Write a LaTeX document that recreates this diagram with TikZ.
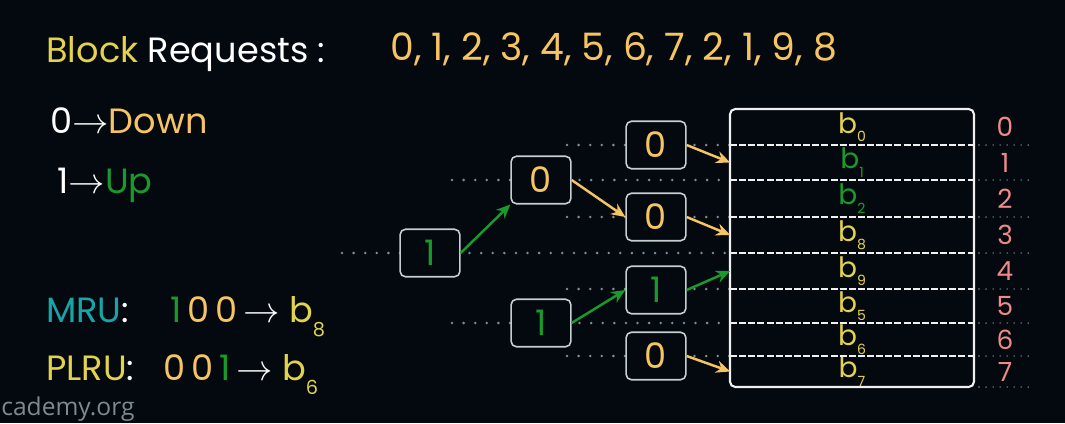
\documentclass[tikz,border=0pt]{standalone}
\usepackage{fontspec}
\setmainfont{Poppins}
\newfontfamily\sitefont{Open Sans}
\usetikzlibrary{arrows.meta}

\definecolor{bgcol}{HTML}{03090E}
\definecolor{ylw}{HTML}{E3D24C}
\definecolor{org}{HTML}{F6C461}
\definecolor{grn}{HTML}{1A9A2A}
\definecolor{teal}{HTML}{18A5A8}
\definecolor{pink}{HTML}{F08A8A}
\definecolor{dotgray}{HTML}{7D8B94}
\definecolor{boxgray}{HTML}{C5CFD0}
\definecolor{sitegray}{HTML}{7F8A8F}

\newcommand\hdfont{\fontsize{20}{20}\selectfont}
\newcommand\blk[1]{b\raisebox{-0.3em}{\fontsize{8}{8}\selectfont #1}}
\newcommand\bigblk[1]{b\raisebox{-0.4em}{\fontsize{11}{11}\selectfont #1}}

\begin{document}
\begin{tikzpicture}[x=0.02cm, y=-0.02cm]
\tikzset{
  bit/.style={draw=boxgray, line width=0.9pt, rounded corners=3pt, fill=bgcol,
    minimum width=34pt, minimum height=27pt, inner sep=0pt, font=\fontsize{20}{20}\selectfont},
  cacherow/.style={minimum width=138.3pt, inner sep=0pt, font=\fontsize{16}{16}\selectfont},
  idx/.style={text=pink, inner sep=0pt, font=\fontsize{15}{15}\selectfont},
  guide/.style={dotgray, line width=1.6pt, line cap=round, dash pattern=on 0pt off 6.6pt},
  fineguide/.style={dotgray, line width=0.9pt, line cap=round, dash pattern=on 0pt off 4pt},
  sep/.style={white!88!gray, line width=1.1pt, dash pattern=on 4pt off 1.2pt},
  goUp/.style={->, line width=1.4pt, grn},
  goDown/.style={->, line width=1.4pt, org},
  txt/.style={anchor=base west, inner sep=0pt, font=\hdfont},
  >={Stealth[length=8pt, width=7pt]}
}

% background
\fill[bgcol] (0,0) rectangle (1065,423);

% header and legend
\node[txt] (title) at (46,62) {\textcolor{ylw}{Block} \textcolor{white}{Requests :}};
\node[txt, text=org, font=\fontsize{21.5}{21.5}\selectfont] (reqs) at (390,60) {0, 1, 2, 3, 4, 5, 6, 7, 2, 1, 9, 8};
\node[txt] (downKey) at (50,133) {\textcolor{white}{0$\to$}\textcolor{org}{Down}};
\node[txt] (upKey) at (57,193) {\textcolor{white}{1$\to$}\textcolor{grn}{Up}};

% MRU / PLRU
\node[txt] (mruKey) at (46,322) {\textcolor{teal}{MRU}\textcolor{white}{:}};
\node[txt] (mruBits) at (170,322) {\textcolor{grn}{1}\,\textcolor{org}{0\,0}\,\textcolor{white}{$\to$}\ \textcolor{ylw}{\bigblk{8}}};
\node[txt] (plruKey) at (46,380) {\textcolor{ylw}{PLRU}\textcolor{white}{:}};
\node[txt] (plruBits) at (163,380) {\textcolor{org}{0\,0}\,\textcolor{grn}{1}\,\textcolor{white}{$\to$}\ \textcolor{ylw}{\bigblk{6}}};
\node[anchor=base west, inner sep=0pt, text=sitegray, font=\sitefont\fontsize{14}{14}\selectfont] (site) at (1,415) {cademy.org};

% guide lines
\draw[guide] (342,253) -- (730,253);
\draw[guide] (452,180) -- (730,180);
\draw[guide] (452,323) -- (730,323);
\foreach \y in {145,217,289,356}
  \draw[guide] (567,\y) -- (730,\y);
\foreach \y in {145,180,217,253,289,323,356,387}
  \draw[fineguide] (979,\y) -- (1035,\y);

% cache
\foreach \i/\ya/\yb/\blkid/\col in {0/109/145/0/ylw, 1/145/180/1/grn, 2/180/217/2/grn, 3/217/253/8/ylw,
    4/253/289/9/ylw, 5/289/323/5/ylw, 6/323/356/6/ylw, 7/356/387/7/ylw} {
  \node[cacherow, minimum height={(\yb-\ya)*0.5669pt}, text=\col] (row\i) at (852,{(\ya+\yb)/2}) {\blk{\blkid}};
  \node[idx] (idx\i) at (1005,{(\ya+\yb)/2}) {\i};
}
\foreach \y in {145,180,217,253,289,323,356}
  \draw[sep] (730,\y) -- (974,\y);
\draw[white!88!gray, line width=1.2pt, rounded corners=3pt] (730,109) rectangle (974,387);

% tree
\node[bit, text=grn] (root) at (430,253) {1};
\node[bit, text=org] (upper) at (541,180) {0};
\node[bit, text=grn] (lower) at (541,323) {1};
\node[bit, text=org] (leafA) at (656,145) {0};
\node[bit, text=org] (leafB) at (656,217) {0};
\node[bit, text=grn] (leafC) at (656,290) {1};
\node[bit, text=org] (leafD) at (656,356) {0};

\draw[goUp] (root.east) -- (upper.south west);
\draw[goDown] (upper.east) -- (leafB.west);
\draw[goUp] (lower.east) -- (leafC.west);
\draw[goDown] (leafA.east) -- (row1.west);
\draw[goDown] (leafB.east) -- (row3.west);
\draw[goUp] (leafC.east) -- (row4.west);
\draw[goDown] (leafD.east) -- (row7.west);
\end{tikzpicture}
\end{document}
